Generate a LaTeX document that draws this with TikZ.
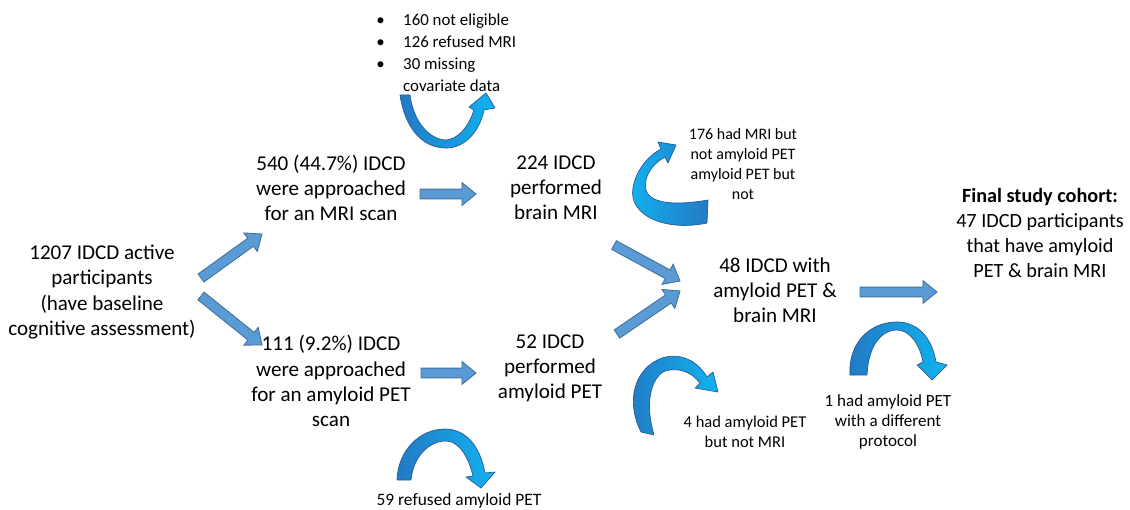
\documentclass[tikz,border=0pt]{standalone}
\usepackage{fontspec}
\setmainfont{Carlito}
\usetikzlibrary{calc}
\definecolor{boxblue}{RGB}{91,155,213}
\definecolor{boxedge}{RGB}{65,113,156}
\definecolor{turndark}{RGB}{34,122,196}
\definecolor{turnlight}{RGB}{18,178,240}
\definecolor{turnedge}{RGB}{40,90,150}
\tikzset{
  maintext/.style={align=center, inner sep=0pt, font=\fontsize{12}{14.3}\selectfont},
  notetext/.style={align=center, inner sep=0pt, font=\fontsize{9.4}{11.5}\selectfont},
  notelist/.style={align=left, inner sep=0pt, font=\fontsize{9.6}{12.5}\selectfont},
  blockarrow/.style={fill=boxblue, draw=boxedge, line width=0.5pt, line join=miter,
    to path={($(\tikztostart)!2.8pt!90:(\tikztotarget)$)
      -- ($(\tikztotarget)!8pt!(\tikztostart)!2.8pt!90:(\tikztotarget)$)
      -- ($(\tikztotarget)!8pt!(\tikztostart)!6.5pt!90:(\tikztotarget)$)
      -- (\tikztotarget)
      -- ($(\tikztotarget)!8pt!(\tikztostart)!6.5pt!-90:(\tikztotarget)$)
      -- ($(\tikztotarget)!8pt!(\tikztostart)!2.8pt!-90:(\tikztotarget)$)
      -- ($(\tikztostart)!2.8pt!-90:(\tikztotarget)$) -- cycle}},
  turnarrow/.style={draw=turnedge, line width=0.4pt, line join=round}
}
\begin{document}
\begin{tikzpicture}[x=0.02cm, y=-0.02cm]
\useasboundingbox (0,0) rectangle (1130,510);

\node[maintext] (total) at (102,292) {1207 IDCD active\\participants\\(have baseline\\cognitive assessment)};
\node[maintext] (mriapp) at (331,188) {540 (44.7\%) IDCD\\were approached\\for an MRI scan};
\node[maintext] (mri) at (556,188) {224 IDCD\\performed\\brain MRI};
\node[maintext] (petapp) at (331,381) {111 (9.2\%) IDCD\\were approached\\for an amyloid PET\\scan};
\node[maintext] (pet) at (550,368) {52 IDCD\\performed\\amyloid PET};
\node[maintext] (both) at (775,290) {48 IDCD with\\amyloid PET \&\\brain MRI};
\node[maintext, font=\fontsize{11.5}{14.3}\selectfont] (final) at (1040,233) {\textbf{Final study cohort:}\\47 IDCD participants\\that have amyloid\\PET \& brain MRI};

\node[notelist, anchor=west] (excl) at (376,53) {\makebox[15.3pt][l]{\textbullet}160 not eligible\\
  \makebox[15.3pt][l]{\textbullet}126 refused MRI\\
  \makebox[15.3pt][l]{\textbullet}30 missing\\
  \makebox[15.3pt][l]{}covariate data};
\node[notetext, font=\fontsize{9.1}{11.5}\selectfont] (nopet) at (743,164) {176 had MRI but\\not amyloid PET\\amyloid PET but\\not};
\node[notetext] (nomri) at (745,432) {4 had amyloid PET\\but not MRI};
\node[notetext, font=\fontsize{9.7}{11.4}\selectfont] (protocol) at (888,422) {1 had amyloid PET\\with a different\\protocol};
\node[notetext, font=\fontsize{9.9}{11.5}\selectfont] (refpet) at (459,501) {59 refused amyloid PET};

% straight block arrows
\coordinate (a1s) at (201,278);
\coordinate (a1e) at (262,234);
\coordinate (a2s) at (201,296);
\coordinate (a2e) at (262,345);
\coordinate (a3s) at (420,194);
\coordinate (a3e) at (476,194);
\coordinate (a4s) at (421,373);
\coordinate (a4e) at (476,373);
\coordinate (a5s) at (614,245);
\coordinate (a5e) at (680,281);
\coordinate (a6s) at (617,334);
\coordinate (a6e) at (680,291);
\coordinate (a7s) at (860,292);
\coordinate (a7e) at (937,292);

\draw[blockarrow] (a1s) to (a1e);
\draw[blockarrow] (a2s) to (a2e);
\draw[blockarrow] (a3s) to (a3e);
\draw[blockarrow] (a4s) to (a4e);
\draw[blockarrow] (a5s) to (a5e);
\draw[blockarrow] (a6s) to (a6e);
\draw[blockarrow] (a7s) to (a7e);

% curved arrows
\draw[turnarrow, left color=turndark, right color=turnlight]
  (400,95) .. controls (405,128) and (422,148) .. (446,148)
  .. controls (466,148) and (480,130) .. (484,110) -- (495,108) -- (486,93) -- (469,107) -- (474,110)
  .. controls (468,128) and (458,139) .. (446,140)
  .. controls (432,140) and (414,125) .. (410,95) -- cycle;
\draw[turnarrow, left color=turnlight, right color=turndark]
  (707,223) .. controls (665,232) and (628,215) .. (633,188)
  .. controls (636,170) and (648,156) .. (661,149) -- (658,142) -- (676,145) -- (668,163) -- (665,157)
  .. controls (652,164) and (643,177) .. (646,190)
  .. controls (650,205) and (680,205) .. (708,200) -- cycle;
\draw[turnarrow, left color=turndark, right color=turnlight]
  (641,432) .. controls (625,400) and (635,368) .. (662,358)
  .. controls (682,352) and (698,362) .. (707,377) -- (713,372) -- (718,392) -- (695,388) -- (700,383)
  .. controls (692,372) and (678,367) .. (665,371)
  .. controls (650,378) and (645,405) .. (654,435) -- cycle;
\draw[turnarrow, left color=turndark, right color=turnlight]
  (850,375) .. controls (848,345) and (868,322) .. (897,322)
  .. controls (918,322) and (932,338) .. (936,362) -- (947,365) -- (932,380) -- (917,365) -- (923,362)
  .. controls (920,345) and (910,330) .. (897,330)
  .. controls (880,330) and (868,348) .. (867,375) -- cycle;
\draw[turnarrow, left color=turndark, right color=turnlight]
  (397,480) .. controls (398,450) and (420,429) .. (445,429)
  .. controls (465,429) and (480,445) .. (485,473) -- (495,472) -- (481,488) -- (466,477) -- (473,476)
  .. controls (468,455) and (458,441) .. (446,441)
  .. controls (428,441) and (413,458) .. (411,480) -- cycle;
\end{tikzpicture}
\end{document}
